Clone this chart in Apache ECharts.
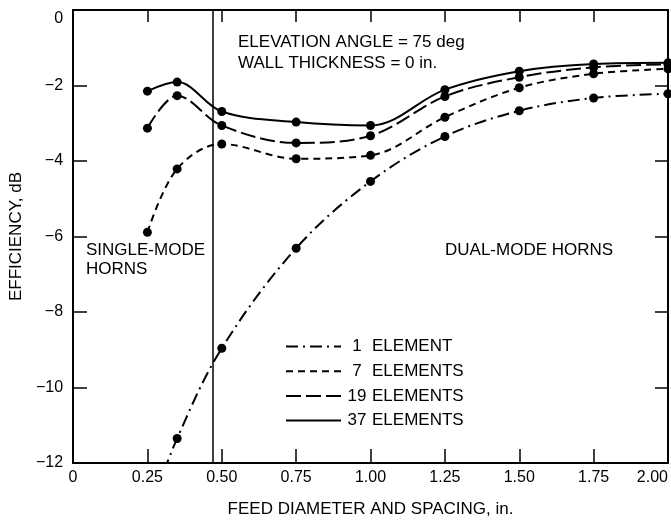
<!DOCTYPE html>
<html>
<head>
<meta charset="utf-8">
<script src="https://cdn.jsdelivr.net/npm/echarts@6/dist/echarts.min.js"></script>
<style>
  html, body { margin: 0; padding: 0; background: #fff; }
  #chart { width: 671px; height: 523px; }
</style>
</head>
<body>
<div id="chart"></div>
<script>
// Feed diameter / element spacing (in.) at which efficiency was computed
const feedDiameter = [0.25, 0.35, 0.50, 0.75, 1.00, 1.25, 1.50, 1.75, 2.00];

// Array efficiency, dB, for each array size
const eff1Element   = [-13.4, -11.35, -8.96, -6.31, -4.54, -3.35, -2.67, -2.33, -2.22];
const eff7Elements  = [-5.89, -4.21, -3.55, -3.94, -3.85, -2.84, -2.06, -1.69, -1.56];
const eff19Elements = [-3.13, -2.27, -3.06, -3.52, -3.33, -2.29, -1.78, -1.52, -1.44];
const eff37Elements = [-2.15, -1.91, -2.69, -2.97, -3.06, -2.11, -1.62, -1.43, -1.40];

// Boundary between single-mode and dual-mode horns (in.)
const modeBoundary = 0.475;

// Axis ranges / ticks
const xTicks = { min: 0, max: 2, interval: 0.25 };
const yTicks = { min: -12, max: 0, interval: 2 };

const FONT = "'Liberation Sans', Arial, Helvetica, sans-serif";
const INK = '#000';

function pairs(ys) {
  return feedDiameter.map((x, i) => [x, ys[i]]);
}

function curve(name, ys, dash) {
  return {
    name: name,
    type: 'line',
    data: pairs(ys),
    smooth: 0.35,
    clip: true,
    symbol: 'circle',
    symbolSize: 9,
    itemStyle: { color: INK },
    lineStyle: { color: INK, width: 2, type: dash },
    emphasis: { disabled: true },
    z: 3
  };
}

const chart = echarts.init(document.getElementById('chart'), null, { renderer: 'canvas' });

const xLabel = v => (v === 0 ? '0' : v.toFixed(2));
const yLabel = v => (v === 0 ? '{z|0}' : '\u2212' + Math.abs(v));

const series = [
  curve('1 ELEMENT', eff1Element, [12, 5, 2, 5]),
  curve('7 ELEMENTS', eff7Elements, [7, 5]),
  curve('19 ELEMENTS', eff19Elements, [15, 5]),
  curve('37 ELEMENTS', eff37Elements, 'solid')
];

// vertical divider between the two horn types
series[3].markLine = {
  silent: true,
  symbol: 'none',
  label: { show: false },
  lineStyle: { color: INK, width: 1.5, type: 'solid' },
  data: [{ xAxis: modeBoundary }]
};

const option = {
  animation: false,
  backgroundColor: '#fff',
  textStyle: { fontFamily: FONT, color: INK },
  grid: { left: 73, right: 1, top: 10, bottom: 60, containLabel: false },
  xAxis: [
    {
      type: 'value', position: 'bottom',
      min: xTicks.min, max: xTicks.max, interval: xTicks.interval,
      name: 'FEED DIAMETER AND SPACING, in.',
      nameLocation: 'middle', nameGap: 38,
      nameTextStyle: { fontSize: 17, color: INK, fontFamily: FONT },
      axisLine: { show: true, onZero: false, lineStyle: { color: INK, width: 2 } },
      axisTick: { show: true, inside: true, length: 14, lineStyle: { color: INK, width: 1.5 } },
      axisLabel: { show: true, formatter: xLabel, fontSize: 16, color: INK, margin: 7, fontFamily: FONT, alignMaxLabel: 'right' },
      splitLine: { show: false }
    },
    {
      type: 'value', position: 'top',
      min: xTicks.min, max: xTicks.max, interval: xTicks.interval,
      axisLine: { show: true, onZero: false, lineStyle: { color: INK, width: 2 } },
      axisTick: { show: true, inside: true, length: 12, lineStyle: { color: INK, width: 1.5 } },
      axisLabel: { show: false },
      splitLine: { show: false }
    }
  ],
  yAxis: [
    {
      type: 'value', position: 'left',
      min: yTicks.min, max: yTicks.max, interval: yTicks.interval,
      name: 'EFFICIENCY, dB',
      nameLocation: 'middle', nameGap: 45, nameRotate: 90,
      nameTextStyle: { fontSize: 17, color: INK, fontFamily: FONT },
      axisLine: { show: true, onZero: false, lineStyle: { color: INK, width: 2 } },
      axisTick: { show: true, inside: true, length: 14, lineStyle: { color: INK, width: 1.5 } },
      axisLabel: {
        show: true, formatter: yLabel, fontSize: 16, color: INK, margin: 10, fontFamily: FONT,
        rich: { z: { fontSize: 16, color: INK, fontFamily: FONT, padding: [18, 0, 0, 0] } }
      },
      splitLine: { show: false }
    },
    {
      type: 'value', position: 'right',
      min: yTicks.min, max: yTicks.max, interval: yTicks.interval,
      axisLine: { show: true, onZero: false, lineStyle: { color: INK, width: 2 } },
      axisTick: { show: true, inside: true, length: 13, lineStyle: { color: INK, width: 1.5 } },
      axisLabel: { show: false },
      splitLine: { show: false }
    }
  ],
  legend: {
    orient: 'vertical',
    left: 280, top: 333,
    itemWidth: 55, itemHeight: 14, itemGap: 7.7,
    selectedMode: false,
    itemStyle: { opacity: 0 },
    data: series.map(s => s.name),
    formatter: name => {
      const sp = name.indexOf(' ');
      return '{n|' + name.slice(0, sp) + '}{t|' + name.slice(sp + 1) + '}';
    },
    textStyle: {
      fontSize: 17, color: INK, fontFamily: FONT,
      rich: {
        n: { fontSize: 17, color: INK, fontFamily: FONT, width: 22, align: 'right' },
        t: { fontSize: 17, color: INK, fontFamily: FONT, padding: [0, 0, 0, 4] }
      }
    }
  },
  graphic: [
    { type: 'text', left: 238, top: 34, style: { text: 'ELEVATION ANGLE = 75 deg', font: '17px ' + FONT, fill: INK } },
    { type: 'text', left: 238, top: 55, style: { text: 'WALL THICKNESS = 0 in.', font: '17px ' + FONT, fill: INK } },
    { type: 'text', left: 86, top: 242, style: { text: 'SINGLE-MODE', font: '17px ' + FONT, fill: INK } },
    { type: 'text', left: 86, top: 261, style: { text: 'HORNS', font: '17px ' + FONT, fill: INK } },
    { type: 'text', left: 445, top: 242, style: { text: 'DUAL-MODE HORNS', font: '17px ' + FONT, fill: INK } }
  ],
  series: series
};

chart.setOption(option);
</script>
</body>
</html>
